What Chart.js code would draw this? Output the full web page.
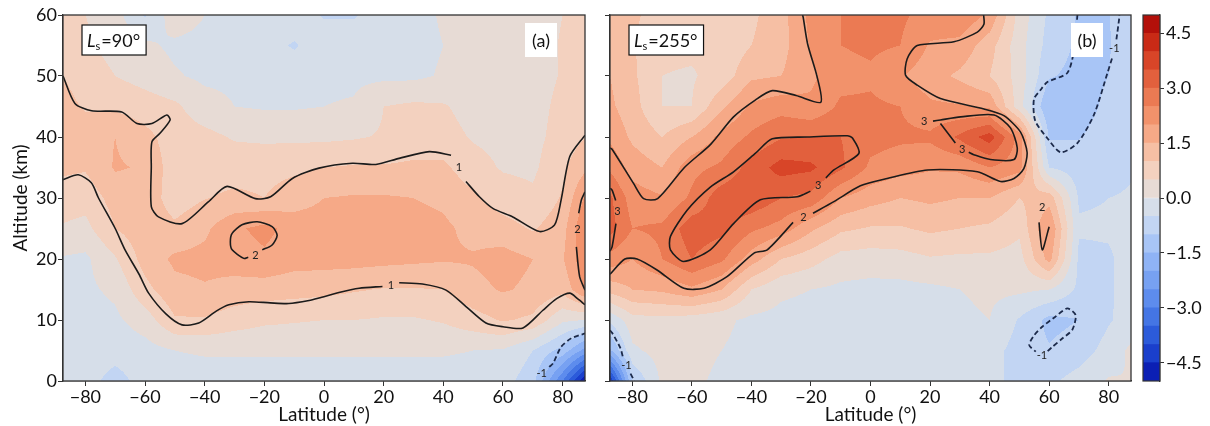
<!DOCTYPE html>
<html>
<head>
<meta charset="utf-8">
<script src="https://cdn.jsdelivr.net/npm/chart.js@4.4.1/dist/chart.umd.min.js"></script>
<style>
  html, body { margin: 0; padding: 0; background: #fff; }
  #wrap { position: relative; width: 1210px; height: 426px; }
  canvas { position: absolute; top: 0; }
</style>
</head>
<body>
<div id="wrap">
  <canvas id="panelA" width="590" height="426" style="left:0"></canvas>
  <canvas id="panelB" width="545" height="426" style="left:590px"></canvas>
  <canvas id="cbar" width="75" height="426" style="left:1135px"></canvas>
</div>
<script>
// grid nodes
const lats = [-87.5, -80, -70, -60, -50, -40, -30, -20, -10, 0, 10, 20, 30, 40, 50, 60, 70, 80, 87.5];
const alts = [0, 5, 10, 15, 20, 25, 30, 35, 40, 45, 50, 55, 60];
const latTicks = [-80, -60, -40, -20, 0, 20, 40, 60, 80];
const altTicks = [0, 10, 20, 30, 40, 50, 60];
const cbTicks = [-4.5, -3.0, -1.5, 0.0, 1.5, 3.0, 4.5];
const levels = [-5, -4.5, -4, -3.5, -3, -2.5, -2, -1.5, -1, -0.5, 0, 0.5, 1, 1.5, 2, 2.5, 3, 3.5, 4, 4.5, 5];
const levelColors = [
  "#0b1fb4", "#1a3fcc", "#2c5bda", "#4475e4", "#5d8ced", "#77a1f2", "#8fb3f5", "#a8c5f6", "#c2d5f3", "#d6dee9",
  "#e7dbd5", "#f3d1bf", "#f6bfa4", "#f6a987", "#f2926b", "#eb7a53", "#e2603d", "#d84528", "#c92a16", "#b3100a",
];

// Ls=90, one row per altitude (0..60 km), one value per latitude node
const fieldA = [
  [-0.2, -0.3, -0.7, -0.3, -0.2, -0.2, -0.2, -0.2, -0.2, -0.2, -0.2, -0.2, -0.2, -0.2, -0.2, -0.3, -0.8, -3.0, -5.0],
  [-0.2, -0.2, -0.3, -0.2, 0.0, 0.05, 0.05, 0.05, 0.05, 0.05, 0.05, 0.05, 0.05, 0.05, 0.0, -0.05, -0.5, -1.2, -2.2],
  [-0.2, -0.2, -0.1, 0.25, 0.95, 0.95, 0.75, 0.6, 0.55, 0.5, 0.5, 0.45, 0.45, 0.55, 0.8, 1.05, 0.9, 0.1, 0.0],
  [-0.15, -0.1, 0.1, 0.85, 1.35, 1.45, 1.3, 1.25, 1.2, 1.15, 1.05, 0.97, 0.97, 1.0, 1.35, 1.55, 1.4, 1.15, 2.0],
  [-0.05, -0.1, 0.45, 1.2, 1.6, 1.65, 1.75, 1.9, 1.7, 1.7, 1.7, 1.65, 1.6, 1.55, 1.55, 1.7, 1.5, 1.45, 2.4],
  [0.45, 0.35, 1.0, 1.3, 1.1, 1.4, 1.9, 2.15, 1.8, 1.75, 1.8, 1.75, 1.7, 1.6, 1.35, 1.2, 0.95, 1.3, 2.5],
  [0.75, 0.7, 1.2, 1.3, 0.75, 0.98, 1.1, 1.0, 1.25, 1.5, 1.55, 1.55, 1.5, 1.4, 1.1, 0.75, 0.6, 1.05, 2.05],
  [1.1, 1.05, 1.55, 1.45, 0.7, 0.75, 0.8, 0.85, 0.9, 1.0, 1.05, 1.05, 1.1, 1.1, 0.7, 0.45, 0.4, 0.9, 1.4],
  [1.3, 1.25, 1.5, 1.15, 0.75, 0.65, 0.45, 0.4, 0.4, 0.4, 0.45, 0.55, 0.7, 0.7, 0.45, 0.35, 0.35, 0.7, 0.98],
  [1.15, 0.95, 0.9, 0.75, 0.6, 0.2, 0.0, -0.05, -0.05, 0.0, 0.05, 0.5, 0.6, 0.55, 0.3, 0.25, 0.3, 0.65, 0.8],
  [1.0, 0.8, 0.5, 0.3, 0.05, -0.1, -0.1, -0.15, -0.2, -0.1, -0.1, -0.1, -0.1, 0.05, 0.2, 0.2, 0.25, 0.55, 0.7],
  [0.8, 0.6, 0.3, 0.1, -0.1, -0.15, -0.2, -0.3, -0.55, -0.2, -0.2, -0.2, -0.15, 0.0, 0.15, 0.2, 0.25, 0.55, 0.6],
  [0.7, 0.5, 0.2, -0.55, 0.3, 0.0, -0.1, -0.2, -0.2, -0.55, -0.55, -0.2, -0.15, 0.05, 0.2, 0.2, 0.25, 0.5, 0.6],
];

// Ls=255, one column per latitude node, one value per altitude (0..60 km)
const fieldBByLat = [
  [-4.5, -1.6, -0.4, 1.2, 2.3, 3.2, 3.1, 2.4, 1.9, 1.6, 1.5, 1.4, 1.3],
  [-1.0, -0.1, 0.3, 1.5, 2.0, 2.5, 2.25, 1.8, 1.4, 1.2, 1.1, 1.05, 1.1],
  [0.1, 0.2, 0.35, 1.6, 2.5, 2.6, 2.05, 1.5, 1.0, 0.5, 0.5, 0.6, 0.75],
  [0.1, 0.15, 0.25, 1.9, 3.0, 3.3, 2.6, 2.35, 1.5, 0.5, 0.45, 0.6, 0.7],
  [-0.1, 0.0, 0.1, 1.5, 2.6, 3.15, 3.3, 2.6, 2.15, 1.4, 0.7, 0.6, 0.7],
  [-0.2, -0.15, -0.1, 0.5, 1.75, 2.6, 3.4, 3.2, 2.6, 2.1, 1.4, 1.0, 0.9],
  [-0.2, -0.2, -0.15, 0.1, 1.0, 2.3, 3.0, 3.7, 2.95, 2.3, 1.5, 1.3, 1.3],
  [-0.2, -0.2, -0.2, 0.0, 0.7, 1.6, 2.85, 3.6, 3.0, 2.1, 1.9, 2.05, 2.15],
  [-0.2, -0.2, -0.2, -0.1, 0.3, 1.1, 2.0, 3.1, 3.0, 2.6, 2.3, 2.5, 2.5],
  [-0.2, -0.2, -0.2, -0.15, 0.25, 0.95, 1.7, 2.4, 2.7, 2.6, 2.4, 2.6, 2.6],
  [-0.3, -0.2, -0.2, -0.15, 0.3, 0.95, 1.5, 2.2, 2.6, 2.5, 2.05, 2.5, 2.6],
  [-0.3, -0.2, -0.15, -0.1, 0.45, 1.1, 1.6, 2.05, 2.6, 2.1, 1.7, 1.95, 2.3],
  [-0.3, -0.2, -0.1, 0.0, 0.4, 1.0, 1.5, 2.1, 3.1, 2.05, 1.4, 1.85, 2.4],
  [-0.4, -0.3, 0.0, 0.1, 0.4, 0.9, 1.5, 2.5, 3.75, 1.9, 1.0, 1.2, 1.9],
  [-0.6, -0.7, -0.55, 0.1, 0.3, 0.6, 1.0, 2.2, 2.3, 0.2, 0.3, 0.2, 0.3],
  [-0.6, -0.95, -1.15, 0.0, 1.7, 2.05, 1.3, -0.5, -1.05, -1.5, -0.95, -0.7, -0.6],
  [-0.3, -0.75, -1.0, -0.6, -0.6, -0.45, -0.55, -0.8, -1.02, -1.2, -1.15, -1.1, -1.05],
  [0.05, -0.3, -0.55, -0.55, -0.55, -0.45, -0.5, -0.7, -0.8, -0.9, -1.0, -1.05, -1.02],
  [0.0, 0.1, -0.3, -0.35, -0.35, -0.35, -0.45, -0.55, -0.6, -0.6, -0.6, -0.6, -0.6],
];

// contour lines, [lat, alt]; null leaves a gap for the label
const contourA1Upper = [[-87.5, 50], [-83.5, 45.5], [-77.9, 44.3], [-67.8, 44.1], [-62.7, 42.2], [-57.7, 42.2], [-52.7, 43.6], [-51.6, 42.8], [-55, 40.6], [-57.7, 39.2], [-57.9, 35.1], [-57.9, 28.6], [-55.5, 26.9], [-47.6, 25.8], [-38.7, 29.4], [-32.5, 31.9], [-23, 29.9], [-17.9, 30.2], [-10.6, 33.2], [-1.7, 34.9], [9.5, 35.7], [17.4, 35.5], [25.2, 36.5], [35.3, 37.6], [42.6, 37], null, [47.6, 32.7], [52.1, 30.2], [56.6, 28.3], [63.3, 26.9], [72.3, 24.5], [77.3, 25.6], [79.5, 29.7], [82.4, 36.8], [87.5, 40.3]];
const contourA1Lower = [[-87.5, 33], [-82.4, 33.8], [-78, 32.5], [-75.6, 30], [-70, 25], [-66.7, 21.5], [-62, 17.5], [-58.8, 14.4], [-53, 11], [-47.6, 9.2], [-42, 9.5], [-36, 11.5], [-31.9, 12.5], [-25.2, 13], [-18, 12.8], [-11.8, 12.7], [-5, 13.2], [-1.7, 13.6], [5, 14.5], [11.8, 15.2], [19.6, 15.5], null, [25.2, 16.1], [33, 15.9], [40.9, 14.9], [47.6, 12.2], [54.3, 9.5], [60, 8.9], [66.7, 8.7], [73.4, 11.6], [78, 13.5], [82.4, 14.4], [85, 13.5], [87.5, 12.5]];
const contourA2Blob = [[-20.7, 21.5], [-17.4, 22.3], [-15.7, 23.9], [-17.4, 25.3], [-22.4, 26.1], [-27.5, 25.6], [-30.8, 24.2], [-31.4, 22.8], [-30.8, 21.5], [-26.9, 20.1], [-25.4, 20.3]];
const contourA2Edge = [[87.5, 31], [86.3, 29.7], [85.4, 27.5], null, [84.6, 22], [85.7, 17.1], [87.5, 14.9]];
const contourANeg1 = [[75.5, 2.3], [76.8, 2.9], [79.5, 5.6], [82.9, 7], [87.5, 7.8]];

const contourB2Main = [[38, 60], [38.1, 58.5], [35.9, 57.2], [28, 55.6], [15.7, 55], [12.3, 52.8], [11.8, 50.1], [15.7, 48.5], [23.5, 46.3], [38.1, 44.6], [44.8, 43.5], [50.4, 40.8], [52.6, 37.5], [51.5, 34.8], [48.2, 33.2], [43.7, 32.7], [35.9, 34.3], [19.1, 34.6], [5.6, 33.2], [-3.4, 32], [-12.3, 29.4], [-19.3, 27.5], null, [-26, 26], [-34.7, 21.5], [-39, 21], [-48.2, 17.1], [-55.9, 15.2], [-62.7, 15.2], [-71.7, 18.2], [-78.4, 20], [-82.5, 20], [-87.5, 17.5]];
const contourB2Upper = [[-87.5, 38.2], [-86.8, 38], [-79.6, 32.4], [-76.2, 29.9], [-71.5, 29.9], [-62.5, 35], [-53.7, 38.8], [-46, 43.3], [-38.6, 46.1], [-33, 47.6], [-25, 46.8], [-16.7, 45.7], [-18, 50], [-21.1, 55.2], [-22.6, 59.6], [-22.8, 60]];
const contourB3Left = [[-15, 33.3], [-12.3, 34.6], [-3.9, 37.3], [-6, 39.8], [-7.8, 40.2], [-21.3, 40], [-33, 39.7], [-38.5, 37.4], [-46, 34.3], [-53.8, 31.8], [-61.6, 28], [-67.2, 23.7], [-67.2, 21.5], [-62.8, 19.6], [-53.8, 21.5], [-46, 25.8], [-37, 29.7], [-24.6, 30.2], [-20.2, 31.1]];
const contourB3Right = [[21, 42.6], [23.5, 42.8], [30.3, 43.3], [41.5, 43.6], [47, 41.5], [49.3, 38.2], [48.2, 36.3], [40.3, 36.3], [34.7, 37.1], [33, 37.5], null, [28.5, 39], [23.5, 42.2]];
const contourB3Edge = [[-87.5, 31.6], [-86.8, 31.3], [-85.6, 29.6], null, [-85.5, 25.8], [-86.8, 22], [-87.5, 21.3]];
const contourB2Small = [[56.6, 26], [57.7, 21.5], [60, 25.3]];
const contourBNeg1Top = [[69.5, 60], [68.4, 54.3], [66.1, 50.5], [59.4, 49], [57.1, 47.7], [54.9, 46.2], [55.3, 42.7], [59.4, 39.8], [63.9, 37.5], [69.5, 39], [75.1, 43.7], [79.6, 50.5], [81.2, 53], null, [82.6, 56], [83.5, 59.3], [83.6, 60]];
const contourBNeg1Low = [[59.5, 4.9], [61.1, 5.6], [64.5, 7], [67.8, 8.4], [68.9, 10.8], [66.1, 11.9], [62, 10.5], [57.7, 8.9], [55, 7.5], [53.3, 5.9], [55.5, 4.8]];
const contourBNeg1Left = [[-87.5, 8.3], [-86.8, 7.9], [-84, 5.4], [-83.2, 4], null, [-80.6, 1.2], [-79.3, 0]];

// contour labels [lat, alt, text]
const labelsA = [[45.2, 35, "1"], [22.4, 15.7, "1"], [-23, 20.6, "2"], [85, 24.8, "2"], [73, 1.2, "-1"]];
const labelsB = [[-22.5, 26.8, "2"], [-17.6, 32.1, "3"], [-85, 27.8, "3"], [30.8, 38, "3"], [18, 42.6, "3"], [57.7, 28.4, "2"], [81.9, 54.5, "-1"], [57.6, 4.2, "-1"], [-82, 2.6, "-1"]];

Chart.defaults.font.family = 'Lato, "Open Sans", sans-serif';
Chart.defaults.font.size = 18;
Chart.defaults.color = "#111";

const fieldB = alts.map((_, j) => fieldBByLat.map((col) => col[j]));

function sampleField(field, lat, alt) {
  let i = 0;
  while (i < lats.length - 2 && lat > lats[i + 1]) i++;
  let j = 0;
  while (j < alts.length - 2 && alt > alts[j + 1]) j++;
  const tx = Math.min(1, Math.max(0, (lat - lats[i]) / (lats[i + 1] - lats[i])));
  const ty = Math.min(1, Math.max(0, (alt - alts[j]) / (alts[j + 1] - alts[j])));
  return field[j][i] * (1 - tx) * (1 - ty) + field[j][i + 1] * tx * (1 - ty) +
    field[j + 1][i] * (1 - tx) * ty + field[j + 1][i + 1] * tx * ty;
}

function levelColor(v) {
  for (let k = 1; k < levels.length - 1; k++) {
    if (v < levels[k]) return levelColors[k - 1];
  }
  return levelColors[levelColors.length - 1];
}

// filled levels, painted row by row through the chart scales
function fieldLayer(field) {
  return {
    id: "fieldLayer",
    beforeDatasetsDraw(chart) {
      const { ctx, chartArea: a, scales: { x, y } } = chart;
      ctx.save();
      ctx.beginPath();
      ctx.rect(a.left, a.top, a.right - a.left, a.bottom - a.top);
      ctx.clip();
      const x0 = Math.floor(a.left), x1 = Math.ceil(a.right);
      for (let py = Math.floor(a.top); py < a.bottom; py++) {
        const alt = y.getValueForPixel(py + 0.5);
        let runStart = x0, runColor = null;
        for (let px = x0; px < x1; px++) {
          const c = levelColor(sampleField(field, x.getValueForPixel(px + 0.5), alt));
          if (c !== runColor) {
            if (runColor) { ctx.fillStyle = runColor; ctx.fillRect(runStart, py, px - runStart, 1); }
            runColor = c;
            runStart = px;
          }
        }
        ctx.fillStyle = runColor;
        ctx.fillRect(runStart, py, x1 - runStart, 1);
      }
      ctx.restore();
    },
  };
}

function drawSeasonBox(ctx, left, top, deg) {
  ctx.save();
  ctx.font = "italic 18px Lato";
  const wL = ctx.measureText("L").width;
  ctx.font = "11px Lato";
  const wS = ctx.measureText("s").width;
  ctx.font = "18px Lato";
  const wR = ctx.measureText("=" + deg).width;
  const w = wL + wS + wR + 12;
  ctx.fillStyle = "#fff";
  ctx.fillRect(left, top, w, 30);
  ctx.strokeStyle = "#111";
  ctx.lineWidth = 1.2;
  ctx.strokeRect(left, top, w, 30);
  ctx.fillStyle = "#111";
  ctx.textAlign = "left";
  ctx.textBaseline = "alphabetic";
  const base = top + 22;
  ctx.font = "italic 18px Lato";
  ctx.fillText("L", left + 5, base);
  ctx.font = "11px Lato";
  ctx.fillText("s", left + 5 + wL, base + 3);
  ctx.font = "18px Lato";
  ctx.fillText("=" + deg, left + 5 + wL + wS + 1, base);
  ctx.restore();
}

function panelNotes(deg, tag, labels) {
  return {
    id: "panelNotes",
    afterDatasetsDraw(chart) {
      const { ctx, scales: { x, y } } = chart;
      ctx.save();
      ctx.font = "11px Lato";
      ctx.fillStyle = "#222";
      ctx.textAlign = "center";
      ctx.textBaseline = "middle";
      labels.forEach(([lat, alt, t]) => ctx.fillText(t, x.getPixelForValue(lat), y.getPixelForValue(alt)));
      ctx.restore();
    },
    afterDraw(chart) {
      const { ctx, chartArea: a } = chart;
      ctx.save();
      ctx.strokeStyle = "#333";
      ctx.lineWidth = 1.3;
      ctx.strokeRect(a.left, a.top, a.right - a.left, a.bottom - a.top);
      ctx.restore();
      drawSeasonBox(ctx, a.left + 19, 25, deg);
      ctx.save();
      ctx.fillStyle = "#fff";
      ctx.fillRect(a.right - 60, 23, 32, 34);
      ctx.fillStyle = "#111";
      ctx.font = "18px Lato";
      ctx.textAlign = "center";
      ctx.textBaseline = "middle";
      ctx.fillText(tag, a.right - 44, 41);
      ctx.restore();
    },
  };
}

const minus = (v) => (v < 0 ? "\u2212" + Math.abs(v) : String(v));

function line(points, dashed) {
  return {
    data: points.map((p) => (p ? { x: p[0], y: p[1] } : { x: null, y: null })),
    showLine: true,
    spanGaps: false,
    pointRadius: 0,
    borderWidth: dashed ? 1.8 : 1.6,
    borderColor: dashed ? "#1c2a4a" : "#1b1b1b",
    borderDash: dashed ? [5, 3] : [],
    tension: 0.25,
    fill: false,
  };
}

function panelOptions(showAltLabels) {
  return {
    responsive: false,
    animation: false,
    events: [],
    layout: { padding: { left: 0, right: showAltLabels ? 5 : 4, top: 15, bottom: 0 } },
    plugins: { legend: { display: false }, tooltip: { enabled: false } },
    scales: {
      x: {
        type: "linear",
        min: -87.5,
        max: 87.5,
        afterBuildTicks: (s) => { s.ticks = latTicks.map((v) => ({ value: v })); },
        afterFit: (s) => { s.height = 45; },
        ticks: { callback: minus, padding: 0, maxRotation: 0, color: "#111" },
        grid: { drawOnChartArea: false, drawTicks: true, tickLength: 5, color: "#333" },
        border: { display: true, color: "#333", width: 1.3 },
        title: { display: true, text: "Latitude (°)", font: { size: 19 }, padding: { top: 0, bottom: 0 }, color: "#111" },
      },
      y: {
        type: "linear",
        min: 0,
        max: 60,
        afterBuildTicks: (s) => { s.ticks = altTicks.map((v) => ({ value: v })); },
        afterFit: (s) => { s.width = showAltLabels ? 63 : 20; },
        ticks: { display: showAltLabels, padding: 1, color: "#111" },
        grid: { drawOnChartArea: false, drawTicks: true, tickLength: 5, color: "#333" },
        border: { display: true, color: "#333", width: 1.3 },
        title: { display: showAltLabels, text: "Altitude (km)", font: { size: 19 }, padding: { top: 9, bottom: 0 }, color: "#111" },
      },
    },
  };
}

new Chart(document.getElementById("panelA"), {
  type: "scatter",
  data: {
    datasets: [
      line(contourA1Upper), line(contourA1Lower), line(contourA2Blob), line(contourA2Edge),
      line(contourANeg1, true),
    ],
  },
  options: panelOptions(true),
  plugins: [fieldLayer(fieldA), panelNotes("90°", "(a)", labelsA)],
});

new Chart(document.getElementById("panelB"), {
  type: "scatter",
  data: {
    datasets: [
      line(contourB2Main), line(contourB2Upper), line(contourB3Left), line(contourB3Right),
      line(contourB3Edge), line(contourB2Small),
      line(contourBNeg1Top, true), line(contourBNeg1Low, true), line(contourBNeg1Left, true),
    ],
  },
  options: panelOptions(false),
  plugins: [fieldLayer(fieldB), panelNotes("255°", "(b)", labelsB)],
});

// colour bar: one floating bar per level band
new Chart(document.getElementById("cbar"), {
  type: "bar",
  data: {
    labels: [""],
    datasets: levelColors.map((c, k) => ({
      data: [[levels[k], levels[k + 1]]],
      backgroundColor: c,
      borderWidth: 0,
      grouped: false,
      barPercentage: 1,
      categoryPercentage: 1,
    })),
  },
  options: {
    responsive: false,
    animation: false,
    events: [],
    layout: { padding: { left: 8, right: 0, top: 15, bottom: 45 } },
    plugins: { legend: { display: false }, tooltip: { enabled: false } },
    scales: {
      x: { display: false },
      y: {
        position: "right",
        min: -5,
        max: 5,
        afterBuildTicks: (s) => { s.ticks = cbTicks.map((v) => ({ value: v })); },
        afterFit: (s) => { s.width = 50; },
        ticks: { callback: (v) => (v < 0 ? "\u2212" + Math.abs(v).toFixed(1) : v.toFixed(1)), padding: 2, color: "#111" },
        grid: { drawOnChartArea: false, drawTicks: true, tickLength: 4, color: "#333" },
        border: { display: true, color: "#333", width: 1.2 },
      },
    },
  },
  plugins: [{
    id: "cbFrame",
    afterDraw(chart) {
      const { ctx, chartArea: a } = chart;
      ctx.save();
      ctx.strokeStyle = "#333";
      ctx.lineWidth = 1.2;
      ctx.strokeRect(a.left, a.top, a.right - a.left, a.bottom - a.top);
      ctx.restore();
    },
  }],
});
</script>
</body>
</html>
